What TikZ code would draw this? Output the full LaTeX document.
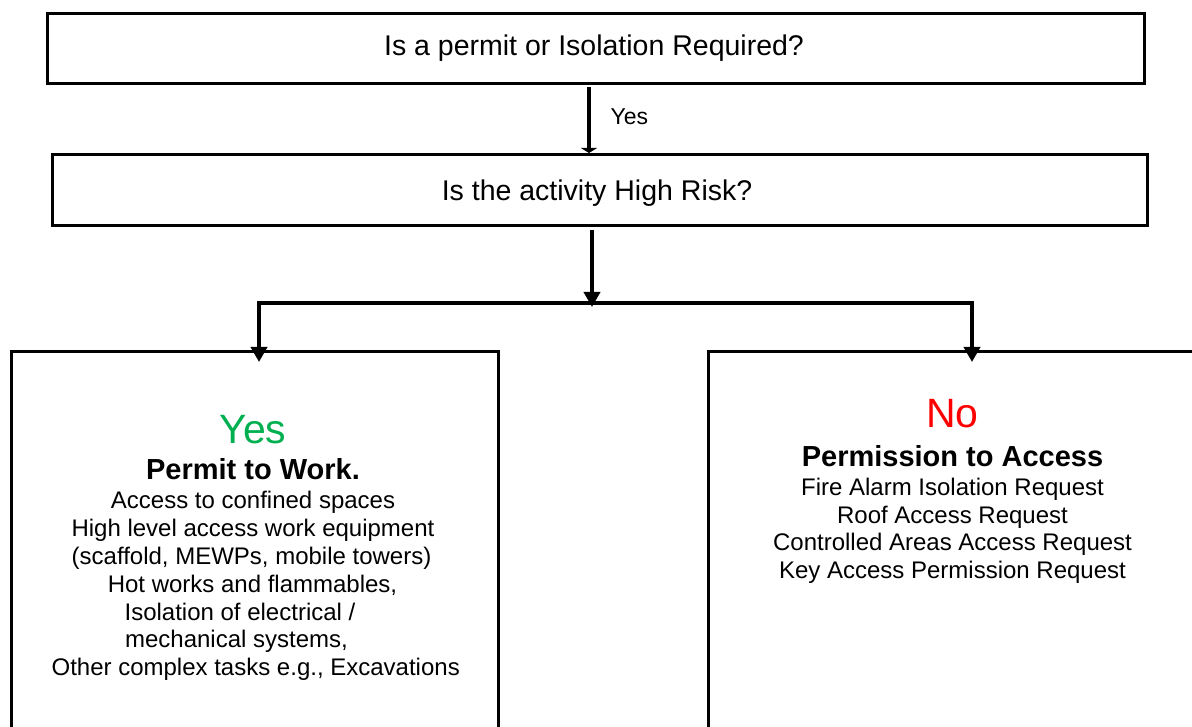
\documentclass[tikz,border=0pt]{standalone}
\usepackage{fontspec}
\setmainfont{Liberation Sans}
\usetikzlibrary{arrows.meta}
\definecolor{yesgreen}{HTML}{00B050}
\definecolor{nored}{HTML}{FF0000}
\begin{document}
\begin{tikzpicture}[x=1pt,y=-1pt,
  boxshape/.style={draw=black,line width=2.8pt,rectangle,inner sep=0pt,anchor=north west},
  conn/.style={draw=black,line width=3.6pt},
  arr/.style={conn,-{Triangle[width=16pt,length=15pt]}},
  flatarr/.style={conn,-{Triangle[width=16pt,length=5pt]}},
  qtext/.style={font=\fontsize{28.5}{34}\selectfont,anchor=base},
  bodytext/.style={font=\fontsize{24}{28}\selectfont,anchor=base},
  headtext/.style={font=\fontsize{29}{34}\selectfont\bfseries,anchor=base},
  bigtext/.style={font=\fontsize{41}{48}\selectfont,anchor=base},
  smalltext/.style={font=\fontsize{23}{27}\selectfont,anchor=base west}]
\useasboundingbox (0,0) rectangle (1192,727);
\clip (0,0) rectangle (1192,727);
% boxes
\node[boxshape,minimum width=1097pt,minimum height=70pt] (q1) at (46,12) {};
\node[boxshape,minimum width=1095pt,minimum height=71pt] (q2) at (51,153) {};
\node[boxshape,minimum width=487pt,minimum height=420pt] (left) at (10,350) {};
\node[boxshape,minimum width=491pt,minimum height=420pt] (right) at (707,350) {};
% question texts
\node[qtext] (q1t) at (594,55.7) {Is a permit or Isolation Required?};
\node[qtext] (q2t) at (597,200.7) {Is the activity High Risk?};
% connectors
\coordinate (a1s) at (589,87);
\coordinate (a1e) at (589,153);
\coordinate (a2s) at (592,230);
\coordinate (a2e) at (592,307);
\coordinate (split) at (592,303);
\coordinate (ltip) at (259,362);
\coordinate (rtip) at (972,362);
\draw[flatarr] (a1s) -- (a1e);
\node[smalltext] (yeslbl) at (607,125) {Yes};
\draw[arr] (a2s) -- (a2e);
\draw[arr] (split) -| (ltip);
\draw[arr] (split) -| (rtip);
% left box text
\node[bigtext,text=yesgreen] (lyes) at (253,443) {Yes};
\node[headtext] (lhead) at (253,479) {Permit to Work.};
\node[bodytext] (l1) at (253,508) {Access to confined spaces};
\node[bodytext] (l2) at (253,536) {High level access work equipment};
\node[bodytext] (l3) at (251.5,564) {(scaffold, MEWPs, mobile towers)};
\node[bodytext] (l4) at (252.5,592) {Hot works and flammables,};
\node[bodytext] (l5) at (240,620) {Isolation of electrical /};
\node[bodytext] (l6) at (236.5,647) {mechanical systems,};
\node[bodytext] (l7) at (255.7,675) {Other complex tasks e.g., Excavations};
% right box text
\node[bigtext,text=nored] (rno) at (952.5,428) {No};
\node[headtext] (rhead) at (952.5,466) {Permission to Access};
\node[bodytext] (r1) at (952.5,495) {Fire Alarm Isolation Request};
\node[bodytext] (r2) at (952.5,523) {Roof Access Request};
\node[bodytext] (r3) at (952.5,550) {Controlled Areas Access Request};
\node[bodytext] (r4) at (952.5,578) {Key Access Permission Request};
\end{tikzpicture}
\end{document}
